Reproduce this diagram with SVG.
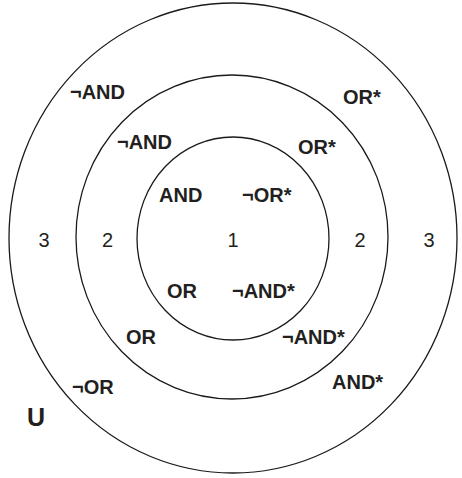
<svg xmlns="http://www.w3.org/2000/svg" width="462" height="478" viewBox="0 0 462 478">
<style>
.ring{fill:none;stroke:#1a1a1a;stroke-width:1.3}
.b{font-family:"Liberation Sans",Arial,sans-serif;font-weight:bold;font-size:20px;fill:#231f20}
.n{font-family:"Liberation Sans",Arial,sans-serif;font-size:20px;fill:#231f20;text-anchor:middle}
</style>
<rect width="462" height="478" fill="#fff"/>
<g id="outer">
<ellipse class="ring" cx="233" cy="238" rx="224" ry="235"/>
<text class="b" x="70" y="99">¬AND</text>
<text class="b" x="343" y="104">OR*</text>
<text class="b" x="72" y="394">¬OR</text>
<text class="b" x="332" y="389">AND*</text>
<text class="n" x="44" y="247">3</text>
<text class="n" x="429" y="247">3</text>
</g>
<g id="middle">
<ellipse class="ring" cx="232" cy="237" rx="156" ry="162"/>
<text class="b" x="117" y="149">¬AND</text>
<text class="b" x="298" y="154">OR*</text>
<text class="b" x="126" y="344">OR</text>
<text class="b" x="282" y="344">¬AND*</text>
<text class="n" x="107.5" y="247">2</text>
<text class="n" x="360" y="247">2</text>
</g>
<g id="inner">
<ellipse class="ring" cx="233" cy="238.5" rx="96" ry="101.5"/>
<text class="b" x="159" y="202">AND</text>
<text class="b" x="242" y="202">¬OR*</text>
<text class="b" x="167" y="298">OR</text>
<text class="b" x="232" y="298">¬AND*</text>
<text class="n" x="233" y="247">1</text>
</g>
<g id="universe">
<text class="b" x="27" y="426" style="font-size:25px">U</text>
</g>
<g id="connectors"/>
</svg>
